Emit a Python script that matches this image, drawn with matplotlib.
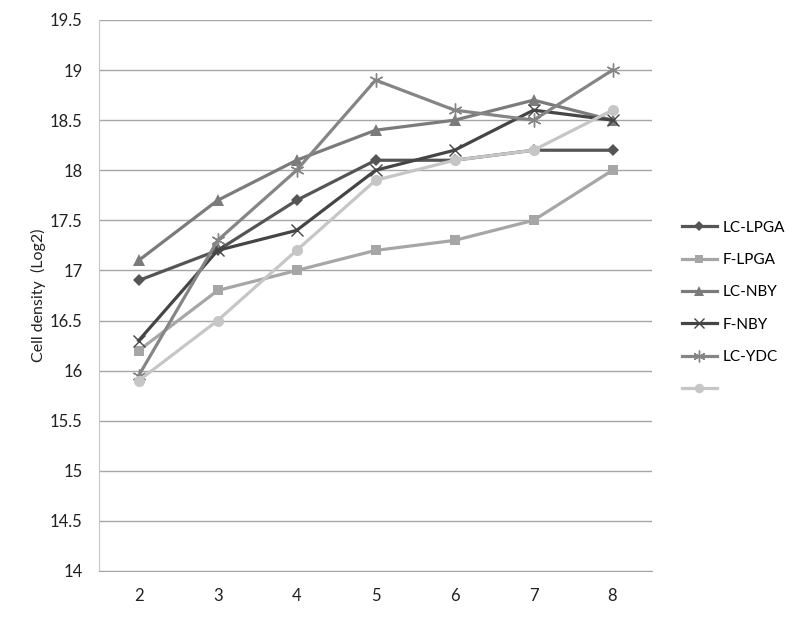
import matplotlib
matplotlib.use("Agg")
import matplotlib.pyplot as plt

days = ["2", "3", "4", "5", "6", "7", "8"]
lc_lpga = [16.9, 17.2, 17.7, 18.1, 18.1, 18.2, 18.2]
f_lpga = [16.2, 16.8, 17.0, 17.2, 17.3, 17.5, 18.0]
lc_nby = [17.1, 17.7, 18.1, 18.4, 18.5, 18.7, 18.5]
f_nby = [16.3, 17.2, 17.4, 18.0, 18.2, 18.6, 18.5]
lc_ydc = [15.95, 17.3, 18.0, 18.9, 18.6, 18.5, 19.0]
unnamed = [15.9, 16.5, 17.2, 17.9, 18.1, 18.2, 18.6]
yticks = [14, 14.5, 15, 15.5, 16, 16.5, 17, 17.5, 18, 18.5, 19, 19.5]

plt.rcParams['font.family'] = ['Lato', 'DejaVu Sans']

fig = plt.figure(figsize=(8, 6.17), dpi=100)
ax = fig.add_axes([0.124, 0.0746, 0.691, 0.893])

x = list(range(len(days)))
series = [
    ("LC-LPGA", lc_lpga, "#555555", "D", 6),
    ("F-LPGA", f_lpga, "#a6a6a6", "s", 7),
    ("LC-NBY", lc_nby, "#7b7b7b", "^", 8),
    ("F-NBY", f_nby, "#454545", "x", 8),
    ("LC-YDC", lc_ydc, "#858585", (6, 2, 0), 10),
    ("", unnamed, "#c6c6c6", "o", 8),
]
for name, vals, col, mk, ms in series:
    kw = dict(markeredgewidth=1.0) if mk in ("x",) or isinstance(mk, tuple) else dict(markeredgewidth=0)
    ax.plot(x, vals, color=col, lw=2.3, marker=mk, markersize=ms,
            markerfacecolor=col, markeredgecolor=col, label=name if name else " ", **kw)

ax.set_xlim(-0.5, len(days) - 0.5)
ax.set_ylim(14, 19.5)
ax.set_xticks(x)
ax.set_xticklabels(days)
ax.set_yticks(yticks)
ax.set_yticklabels([f"{v:g}" for v in yticks])
ax.grid(axis='y', color='#a6a6a6', lw=1)
ax.set_axisbelow(True)
for s in ['top', 'right']:
    ax.spines[s].set_visible(False)
ax.spines['left'].set_color('#c8c8c8')
ax.spines['bottom'].set_color('#a6a6a6')
ax.tick_params(axis='both', length=0, labelsize=12, colors='#222222', pad=12)
ax.set_ylabel("Cell density  (Log2)", fontsize=11.5, color='#222222', labelpad=3)

leg = fig.legend(loc='center left', bbox_to_anchor=(0.835, 0.5), frameon=False,
                 fontsize=11, labelspacing=1.2, handlelength=2.3, handletextpad=0.4,
                 markerscale=0.85)

fig.savefig("out.png", dpi=100)
